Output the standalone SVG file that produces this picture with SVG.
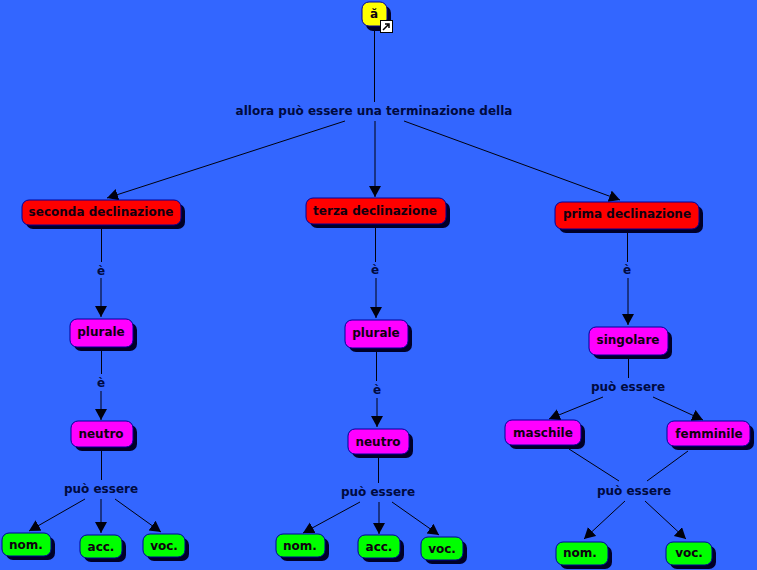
<svg xmlns="http://www.w3.org/2000/svg" width="757" height="570" viewBox="0 0 757 570">
<style>
text{font-family:"DejaVu Sans",Verdana,sans-serif;font-weight:bold;font-size:12px;text-anchor:middle}
.n{stroke:#000099;stroke-width:1}
.s{fill:#000028}
.y{fill:#ffff00}.r{fill:#ff0000}.m{fill:#ff00ff}.g{fill:#00ff00}
.t{fill:#100010}
.l{fill:#000a40}
#connectors line{stroke:#00000d;stroke-width:1}
</style>
<defs>
<marker id="a" markerUnits="userSpaceOnUse" markerWidth="13" markerHeight="13" refX="11" refY="6" orient="auto"><path d="M0 0L11 6L0 12Z" fill="#00000d"/></marker>
</defs>
<rect width="757" height="570" fill="#3366ff"/>
<g id="connectors">
<line x1="374.500" y1="30" x2="374.500" y2="102"/>
<line x1="345" y1="121" x2="107" y2="198" marker-end="url(#a)"/>
<line x1="375" y1="121" x2="375" y2="197" marker-end="url(#a)"/>
<line x1="404" y1="121" x2="620" y2="200" marker-end="url(#a)"/>
<line x1="101.500" y1="228" x2="101.500" y2="262"/>
<line x1="101" y1="278" x2="101" y2="317" marker-end="url(#a)"/>
<line x1="101.500" y1="350" x2="101.500" y2="374"/>
<line x1="101" y1="391" x2="101" y2="420" marker-end="url(#a)"/>
<line x1="101.500" y1="451" x2="101.500" y2="480"/>
<line x1="85" y1="499" x2="29" y2="531" marker-end="url(#a)"/>
<line x1="101" y1="499" x2="101" y2="533" marker-end="url(#a)"/>
<line x1="115" y1="499" x2="161" y2="532" marker-end="url(#a)"/>
<line x1="375.500" y1="227" x2="375.500" y2="262"/>
<line x1="376" y1="278" x2="376" y2="318" marker-end="url(#a)"/>
<line x1="376.500" y1="351" x2="376.500" y2="381"/>
<line x1="377" y1="398" x2="377" y2="427" marker-end="url(#a)"/>
<line x1="378.500" y1="458" x2="378.500" y2="483"/>
<line x1="360" y1="502" x2="303" y2="533" marker-end="url(#a)"/>
<line x1="379" y1="502" x2="379" y2="534" marker-end="url(#a)"/>
<line x1="392" y1="502" x2="439" y2="535" marker-end="url(#a)"/>
<line x1="627.500" y1="232" x2="627.500" y2="262"/>
<line x1="628" y1="278" x2="628" y2="325" marker-end="url(#a)"/>
<line x1="628.500" y1="358" x2="628.500" y2="378"/>
<line x1="603" y1="397" x2="549" y2="419" marker-end="url(#a)"/>
<line x1="653" y1="397" x2="703" y2="420" marker-end="url(#a)"/>
<line x1="569" y1="449" x2="619" y2="481"/>
<line x1="688" y1="451" x2="647" y2="481"/>
<line x1="625" y1="501" x2="584" y2="539" marker-end="url(#a)"/>
<line x1="645" y1="501" x2="686" y2="539" marker-end="url(#a)"/>
</g>
<g id="n1"><rect class="s" x="366" y="6" width="25" height="25" rx="7"/><rect class="n y" x="362" y="2" width="25" height="24" rx="7"/><text class="t" x="374" y="18">ă</text>
<rect x="380.500" y="20.500" width="12" height="12" fill="#fff" stroke="#000"/><path d="M383 30L388 25M385 24H389V28" fill="none" stroke="#000" stroke-width="1.500"/></g>
<g id="n2"><text class="l" x="374" y="115">allora può essere una terminazione della</text></g>
<g id="n3"><rect class="s" x="26" y="204" width="159" height="25" rx="7"/><rect class="n r" x="22" y="200" width="159" height="25" rx="7"/><text class="t" x="101" y="216">seconda declinazione</text></g>
<g id="n4"><rect class="s" x="310" y="202" width="140" height="26" rx="7"/><rect class="n r" x="306" y="198" width="140" height="26" rx="7"/><text class="t" x="375" y="215">terza declinazione</text></g>
<g id="n5"><rect class="s" x="559" y="206" width="144" height="27" rx="7"/><rect class="n r" x="555" y="202" width="144" height="27" rx="7"/><text class="t" x="627" y="218">prima declinazione</text></g>
<g id="n6"><text class="l" x="101" y="275">è</text></g>
<g id="n7"><text class="l" x="375" y="274">è</text></g>
<g id="n8"><text class="l" x="627" y="274">è</text></g>
<g id="n9"><rect class="s" x="74" y="323" width="63" height="28" rx="7"/><rect class="n m" x="70" y="319" width="63" height="28" rx="7"/><text class="t" x="101" y="336">plurale</text></g>
<g id="n10"><rect class="s" x="349" y="324" width="63" height="28" rx="7"/><rect class="n m" x="345" y="320" width="63" height="28" rx="7"/><text class="t" x="376" y="337">plurale</text></g>
<g id="n11"><rect class="s" x="593" y="331" width="79" height="28" rx="7"/><rect class="n m" x="589" y="327" width="79" height="28" rx="7"/><text class="t" x="628" y="344">singolare</text></g>
<g id="n12"><text class="l" x="101" y="387">è</text></g>
<g id="n13"><text class="l" x="377" y="394">è</text></g>
<g id="n14"><text class="l" x="628" y="391">può essere</text></g>
<g id="n15"><rect class="s" x="75" y="425" width="62" height="26" rx="7"/><rect class="n m" x="71" y="421" width="62" height="26" rx="7"/><text class="t" x="101" y="438">neutro</text></g>
<g id="n16"><rect class="s" x="352" y="433" width="61" height="25" rx="7"/><rect class="n m" x="348" y="429" width="61" height="25" rx="7"/><text class="t" x="378" y="446">neutro</text></g>
<g id="n17"><rect class="s" x="509" y="424" width="76" height="25" rx="7"/><rect class="n m" x="505" y="420" width="76" height="25" rx="7"/><text class="t" x="543" y="437">maschile</text></g>
<g id="n18"><rect class="s" x="671" y="425" width="83" height="25" rx="7"/><rect class="n m" x="667" y="421" width="83" height="25" rx="7"/><text class="t" x="709" y="438">femminile</text></g>
<g id="n19"><text class="l" x="101" y="493">può essere</text></g>
<g id="n20"><text class="l" x="378" y="496">può essere</text></g>
<g id="n21"><text class="l" x="634" y="495">può essere</text></g>
<g id="n22"><rect class="s" x="6" y="537" width="49" height="23" rx="7"/><rect class="n g" x="2" y="533" width="49" height="23" rx="7"/><text class="t" x="26" y="549">nom.</text></g>
<g id="n23"><rect class="s" x="84" y="539" width="42" height="23" rx="7"/><rect class="n g" x="80" y="535" width="42" height="23" rx="7"/><text class="t" x="101" y="551">acc.</text></g>
<g id="n24"><rect class="s" x="147" y="538" width="42" height="23" rx="7"/><rect class="n g" x="143" y="534" width="42" height="23" rx="7"/><text class="t" x="164" y="550">voc.</text></g>
<g id="n25"><rect class="s" x="280" y="538" width="49" height="23" rx="7"/><rect class="n g" x="276" y="534" width="49" height="23" rx="7"/><text class="t" x="300" y="550">nom.</text></g>
<g id="n26"><rect class="s" x="362" y="539" width="42" height="23" rx="7"/><rect class="n g" x="358" y="535" width="42" height="23" rx="7"/><text class="t" x="379" y="551">acc.</text></g>
<g id="n27"><rect class="s" x="425" y="541" width="42" height="23" rx="7"/><rect class="n g" x="421" y="537" width="42" height="23" rx="7"/><text class="t" x="442" y="553">voc.</text></g>
<g id="n28"><rect class="s" x="560" y="546" width="52" height="23" rx="7"/><rect class="n g" x="556" y="542" width="52" height="23" rx="7"/><text class="t" x="580" y="557">nom.</text></g>
<g id="n29"><rect class="s" x="670" y="546" width="46" height="23" rx="7"/><rect class="n g" x="666" y="542" width="46" height="23" rx="7"/><text class="t" x="689" y="557">voc.</text></g>
</svg>
